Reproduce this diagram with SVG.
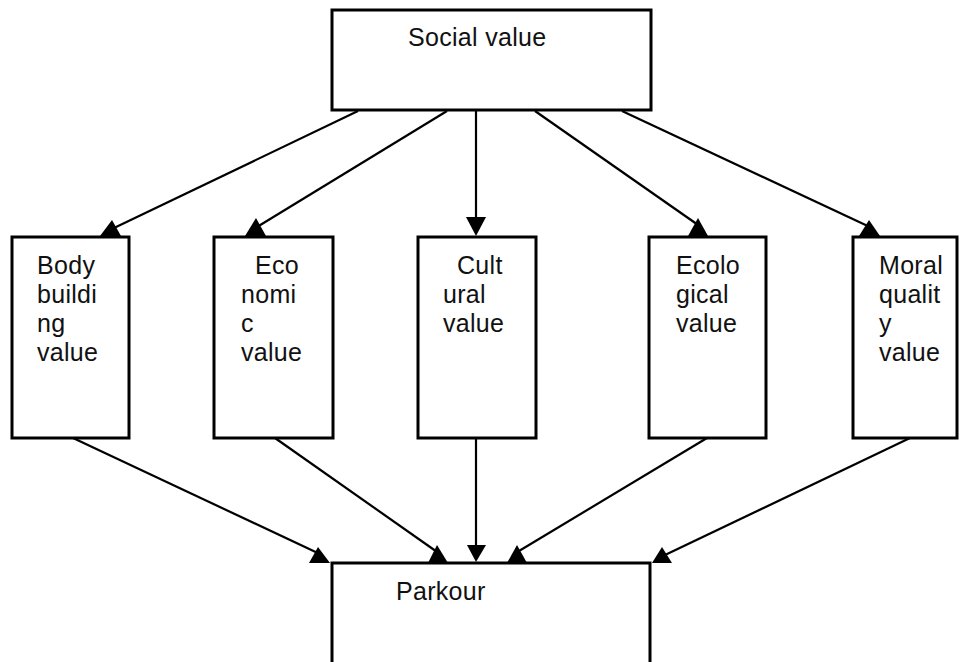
<svg xmlns="http://www.w3.org/2000/svg" width="960" height="662" viewBox="0 0 960 662">
<style>
.box{fill:#fff;stroke:#000;stroke-width:3}
.t{font-family:"Liberation Sans",Arial,sans-serif;font-size:25px;letter-spacing:0.3px;fill:#111}
.c line{stroke:#000;stroke-width:2.2}
.c polygon{fill:#000}
</style>
<rect width="960" height="662" fill="#fff"/>
<g id="social"><rect class="box" x="332" y="10" width="319" height="100"/><text class="t" x="408" y="46">Social value</text></g>
<g id="body"><rect class="box" x="12" y="237" width="117" height="201"/><text class="t"><tspan x="37" y="274">Body</tspan><tspan x="37" y="303">buildi</tspan><tspan x="37" y="332">ng</tspan><tspan x="37" y="361">value</tspan></text></g>
<g id="economic"><rect class="box" x="214" y="237" width="119" height="201"/><text class="t"><tspan x="255" y="274">Eco</tspan><tspan x="241" y="303">nomi</tspan><tspan x="241" y="332">c</tspan><tspan x="241" y="361">value</tspan></text></g>
<g id="cultural"><rect class="box" x="418" y="237" width="118" height="201"/><text class="t"><tspan x="457" y="274">Cult</tspan><tspan x="443" y="303">ural</tspan><tspan x="443" y="332">value</tspan></text></g>
<g id="ecological"><rect class="box" x="649" y="237" width="117" height="201"/><text class="t"><tspan x="676" y="274">Ecolo</tspan><tspan x="676" y="303">gical</tspan><tspan x="676" y="332">value</tspan></text></g>
<g id="moral"><rect class="box" x="853" y="237" width="104" height="201"/><text class="t"><tspan x="879" y="274">Moral</tspan><tspan x="879" y="303">qualit</tspan><tspan x="879" y="332">y</tspan><tspan x="879" y="361">value</tspan></text></g>
<g id="parkour"><rect class="box" x="332" y="563" width="318" height="110"/><text class="t" x="396" y="600">Parkour</text></g>
<g class="c" id="connectors">
<line x1="358" y1="111" x2="114" y2="228"/><polygon points="100,236 121,236 112,220"/>
<line x1="447" y1="111" x2="257" y2="227"/><polygon points="245,236 266,236 256,218"/>
<line x1="476" y1="111" x2="476" y2="220"/><polygon points="466,217 486,217 476,236"/>
<line x1="535" y1="111" x2="701" y2="227"/><polygon points="688,236 708,236 698,218"/>
<line x1="622" y1="111" x2="872" y2="228"/><polygon points="859,236 880,236 869,220"/>
<line x1="73" y1="438" x2="322" y2="555"/><polygon points="309,563 330,563 318,547"/>
<line x1="275" y1="438" x2="440" y2="554"/><polygon points="428,563 448,563 437,545"/>
<line x1="476" y1="438" x2="476" y2="548"/><polygon points="467,545 486,545 476,562"/>
<line x1="707" y1="438" x2="514" y2="554"/><polygon points="507,563 527,563 517,545"/>
<line x1="910" y1="438" x2="665" y2="555"/><polygon points="652,563 672,563 662,547"/>
</g>
</svg>
